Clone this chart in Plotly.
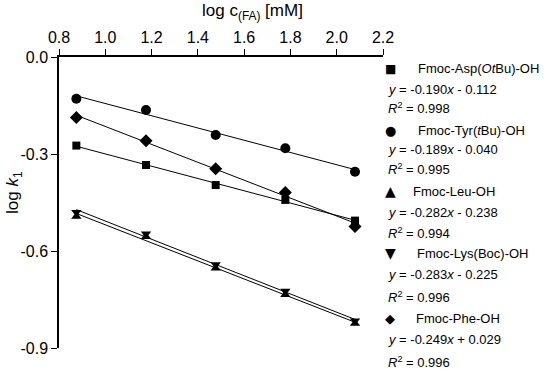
import numpy as np
import plotly.graph_objects as go

# Data
log_c = [0.875, 1.176, 1.477, 1.778, 2.079]
asp = [-0.274, -0.334, -0.396, -0.442, -0.506]
tyr = [-0.129, -0.164, -0.241, -0.282, -0.355]
leu = [-0.493, -0.556, -0.653, -0.735, -0.824]
lys = [-0.480, -0.547, -0.642, -0.724, -0.816]
phe = [-0.187, -0.259, -0.346, -0.419, -0.524]

names = ["Fmoc-Asp(<i>Ot</i>Bu)-OH", "Fmoc-Tyr(<i>t</i>Bu)-OH", "Fmoc-Leu-OH",
         "Fmoc-Lys(Boc)-OH", "Fmoc-Phe-OH"]
equations = ["-0.190<i>x</i> - 0.112", "-0.189<i>x</i> - 0.040", "-0.282<i>x</i> - 0.238",
             "-0.283<i>x</i> - 0.225", "-0.249<i>x</i> + 0.029"]
r2 = ["0.998", "0.995", "0.994", "0.996", "0.996"]
x_ticks = [0.8, 1.0, 1.2, 1.4, 1.6, 1.8, 2.0, 2.2]
y_ticks = [0.0, -0.3, -0.6, -0.9]
y_ticktext = ["0.0", "-0.3", "-0.6", "-0.9"]

series = [asp, tyr, leu, lys, phe]
symbols = ["square", "circle", "triangle-up", "triangle-down", "diamond"]
sizes = [8, 10, 9, 9, 10]
glyphs = ["■", "●", "▲", "▼", "◆"]
glyph_sizes = [12, 13, 14, 14, 13]

FONT = "Liberation Sans, Arial, sans-serif"
fig = go.Figure()

xs = np.array(log_c)
for ys, sym, sz, nm in zip(series, symbols, sizes, names):
    k, b = np.polyfit(xs, np.array(ys), 1)
    xf = np.array([xs[0], xs[-1]])
    fig.add_trace(go.Scatter(x=xf, y=k * xf + b, mode="lines",
                             line=dict(color="black", width=1),
                             showlegend=False, hoverinfo="skip"))
    fig.add_trace(go.Scatter(x=log_c, y=ys, mode="markers", name=nm,
                             marker=dict(symbol=sym, size=sz, color="black",
                                         line=dict(width=0)),
                             showlegend=False, cliponaxis=False))

L, R, T, B = 59, 167, 57, 26
W, H = 550, 374
pw, ph = W - L - R, H - T - B

def px(x):
    return (x - L) / pw

def py(y):
    return (H - B - y) / ph

annotations = []
# axis titles
annotations.append(dict(text="log c<sub>(FA)</sub> [mM]", x=px(252), y=py(12),
                        xref="paper", yref="paper", showarrow=False,
                        xanchor="center", yanchor="middle",
                        font=dict(family=FONT, size=17, color="black")))
annotations.append(dict(text="log <i>k</i><sub>1</sub>", x=px(14), y=py(193),
                        xref="paper", yref="paper", showarrow=False, textangle=-90,
                        xanchor="center", yanchor="middle",
                        font=dict(family=FONT, size=17, color="black")))

rows = [(69, 89, 108), (130, 149, 169), (191, 212, 233), (253, 274, 297), (318, 339, 362)]
name_x = [416, 416, 411, 415, 414]
for i, (yn, ye, yr) in enumerate(rows):
    annotations.append(dict(text=glyphs[i], x=px(390), y=py(yn), xref="paper", yref="paper",
                            showarrow=False, xanchor="center", yanchor="middle",
                            font=dict(family="DejaVu Sans", size=glyph_sizes[i], color="black")))
    annotations.append(dict(text=names[i], x=px(name_x[i]), y=py(yn), xref="paper", yref="paper",
                            showarrow=False, xanchor="left", yanchor="middle",
                            font=dict(family=FONT, size=13, color="black")))
    annotations.append(dict(text="<i>y</i> = " + equations[i], x=px(386), y=py(ye),
                            xref="paper", yref="paper", showarrow=False,
                            xanchor="left", yanchor="middle",
                            font=dict(family=FONT, size=13, color="black")))
    annotations.append(dict(text="<i>R</i><sup>2</sup> = " + r2[i], x=px(386), y=py(yr),
                            xref="paper", yref="paper", showarrow=False,
                            xanchor="left", yanchor="middle",
                            font=dict(family=FONT, size=13, color="black")))

fig.update_layout(
    width=W, height=H,
    margin=dict(l=L, r=R, t=T, b=B),
    paper_bgcolor="white", plot_bgcolor="white",
    font=dict(family=FONT, size=16, color="black"),
    annotations=annotations,
    xaxis=dict(range=[0.8, 2.2], side="top", tickvals=x_ticks,
               ticktext=[f"{v:.1f}" for v in x_ticks],
               ticks="outside", ticklen=6, tickwidth=1.2, tickcolor="black",
               showline=True, linecolor="black", linewidth=1.5,
               showgrid=False, zeroline=False,
               tickfont=dict(family=FONT, size=16, color="black")),
    yaxis=dict(range=[-0.9, 0.0], tickvals=y_ticks, ticktext=y_ticktext,
               ticks="outside", ticklen=6, tickwidth=1.2, tickcolor="black",
               showline=True, linecolor="black", linewidth=1.5,
               showgrid=False, zeroline=False,
               tickfont=dict(family=FONT, size=16, color="black")),
    showlegend=False,
)

fig.write_html("out.html", config={"displayModeBar": False},
               post_script="document.body.style.margin='0';document.body.style.padding='0';")
